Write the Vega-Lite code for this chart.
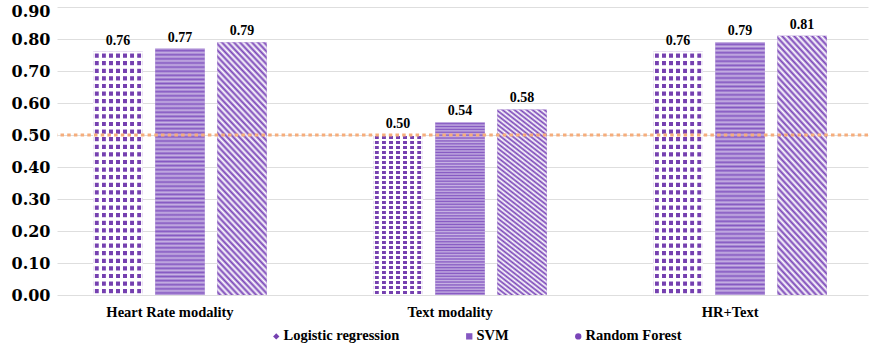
{
  "$schema": "https://vega.github.io/schema/vega-lite/v6.json",
  "width": 811,
  "height": 288,
  "autosize": {"type": "none"},
  "padding": {"left": 57, "top": 7, "right": 10, "bottom": 54},
  "background": "white",
  "config": {
    "view": {"stroke": null},
    "axis": {"gridColor": "#dedede", "gridWidth": 1}
  },
  "datasets": {
    "scores": [
      {"modality": "Heart Rate modality", "model": "Logistic regression", "value": 0.76},
      {"modality": "Heart Rate modality", "model": "SVM", "value": 0.77},
      {"modality": "Heart Rate modality", "model": "Random Forest", "value": 0.79},
      {"modality": "Text modality", "model": "Logistic regression", "value": 0.50},
      {"modality": "Text modality", "model": "SVM", "value": 0.54},
      {"modality": "Text modality", "model": "Random Forest", "value": 0.58},
      {"modality": "HR+Text", "model": "Logistic regression", "value": 0.76},
      {"modality": "HR+Text", "model": "SVM", "value": 0.79},
      {"modality": "HR+Text", "model": "Random Forest", "value": 0.81}
    ],
    "threshold": [{"value": 0.5}]
  },
  "encoding": {
    "y": {
      "field": "value", "type": "quantitative",
      "scale": {"domain": [0, 0.9], "nice": false},
      "axis": {"title": null, "values": [0, 0.1, 0.2, 0.3, 0.4, 0.5, 0.6, 0.7, 0.8, 0.9], "format": ".2f", "labelOverlap": false, "labelBound": false, "domain": false, "ticks": false, "labelPadding": 7, "labelFont": "DejaVu Serif", "labelFontWeight": "bold", "labelFontSize": 16, "labelColor": "#000000",
        "labelOffset": {"condition": {"test": "datum.value >= 0.85", "value": 4}, "value": 0}}
    }
  },
  "layer": [
    {
      "data": {"name": "scores"},
      "encoding": {
        "x": {
          "field": "modality", "type": "nominal",
          "sort": ["Heart Rate modality", "Text modality", "HR+Text"],
          "scale": {"paddingInner": 0.38, "paddingOuter": 0.138, "align": 0.468},
          "axis": {"title": null, "domain": false, "ticks": false, "labelAngle": 0, "labelPadding": 10, "labelOffset": -10, "labelFont": "Liberation Serif", "labelFontWeight": "bold", "labelFontSize": 14.5, "labelColor": "#000000", "grid": false}
        },
        "xOffset": {
          "field": "model", "type": "nominal",
          "sort": ["Logistic regression", "SVM", "Random Forest"],
          "scale": {"domain": ["Logistic regression", "SVM", "Random Forest"], "paddingInner": 0.2, "paddingOuter": 0}
        }
      },
      "layer": [
        {
          "mark": {"type": "bar"},
          "encoding": {
            "color": {"field": "model", "type": "nominal", "scale": {"domain": ["Logistic regression", "SVM", "Random Forest"], "range": ["#7540b0", "#8558c2", "#7a45b8"]},
              "legend": {"orient": "none", "legendX": 212, "legendY": 322, "direction": "horizontal", "title": null, "padding": 0, "labelFont": "Liberation Serif", "labelFontWeight": "bold", "labelFontSize": 14.5, "labelColor": "#000000", "labelOpacity": 1, "symbolSize": 40, "symbolOpacity": 1, "symbolStrokeWidth": 0, "columnPadding": 62, "labelOffset": 0}}
          }
        },
        {
          "transform": [{"filter": "datum.model === 'Logistic regression'"}],
          "mark": {"type": "bar", "fill": {"gradient": "linear", "x1": 0, "y1": 0, "x2": 0, "y2": 1, "stops": [
            {"offset": 0, "color": "#ffffff"},
            {"offset": 0.0055, "color": "#ffffff"}, {"offset": 0.0086, "color": "rgba(255,255,255,0)"}, {"offset": 0.0227, "color": "rgba(255,255,255,0)"}, {"offset": 0.0258, "color": "#ffffff"},
            {"offset": 0.0367, "color": "#ffffff"}, {"offset": 0.0398, "color": "rgba(255,255,255,0)"}, {"offset": 0.0539, "color": "rgba(255,255,255,0)"}, {"offset": 0.057, "color": "#ffffff"},
            {"offset": 0.068, "color": "#ffffff"}, {"offset": 0.0711, "color": "rgba(255,255,255,0)"}, {"offset": 0.0852, "color": "rgba(255,255,255,0)"}, {"offset": 0.0883, "color": "#ffffff"},
            {"offset": 0.0992, "color": "#ffffff"}, {"offset": 0.1023, "color": "rgba(255,255,255,0)"}, {"offset": 0.1164, "color": "rgba(255,255,255,0)"}, {"offset": 0.1195, "color": "#ffffff"},
            {"offset": 0.1305, "color": "#ffffff"}, {"offset": 0.1336, "color": "rgba(255,255,255,0)"}, {"offset": 0.1477, "color": "rgba(255,255,255,0)"}, {"offset": 0.1508, "color": "#ffffff"},
            {"offset": 0.1617, "color": "#ffffff"}, {"offset": 0.1648, "color": "rgba(255,255,255,0)"}, {"offset": 0.1789, "color": "rgba(255,255,255,0)"}, {"offset": 0.182, "color": "#ffffff"},
            {"offset": 0.193, "color": "#ffffff"}, {"offset": 0.1961, "color": "rgba(255,255,255,0)"}, {"offset": 0.2102, "color": "rgba(255,255,255,0)"}, {"offset": 0.2133, "color": "#ffffff"},
            {"offset": 0.2242, "color": "#ffffff"}, {"offset": 0.2273, "color": "rgba(255,255,255,0)"}, {"offset": 0.2414, "color": "rgba(255,255,255,0)"}, {"offset": 0.2445, "color": "#ffffff"},
            {"offset": 0.2555, "color": "#ffffff"}, {"offset": 0.2586, "color": "rgba(255,255,255,0)"}, {"offset": 0.2727, "color": "rgba(255,255,255,0)"}, {"offset": 0.2758, "color": "#ffffff"},
            {"offset": 0.2867, "color": "#ffffff"}, {"offset": 0.2898, "color": "rgba(255,255,255,0)"}, {"offset": 0.3039, "color": "rgba(255,255,255,0)"}, {"offset": 0.307, "color": "#ffffff"},
            {"offset": 0.318, "color": "#ffffff"}, {"offset": 0.3211, "color": "rgba(255,255,255,0)"}, {"offset": 0.3352, "color": "rgba(255,255,255,0)"}, {"offset": 0.3383, "color": "#ffffff"},
            {"offset": 0.3492, "color": "#ffffff"}, {"offset": 0.3523, "color": "rgba(255,255,255,0)"}, {"offset": 0.3664, "color": "rgba(255,255,255,0)"}, {"offset": 0.3695, "color": "#ffffff"},
            {"offset": 0.3805, "color": "#ffffff"}, {"offset": 0.3836, "color": "rgba(255,255,255,0)"}, {"offset": 0.3977, "color": "rgba(255,255,255,0)"}, {"offset": 0.4008, "color": "#ffffff"},
            {"offset": 0.4117, "color": "#ffffff"}, {"offset": 0.4148, "color": "rgba(255,255,255,0)"}, {"offset": 0.4289, "color": "rgba(255,255,255,0)"}, {"offset": 0.432, "color": "#ffffff"},
            {"offset": 0.443, "color": "#ffffff"}, {"offset": 0.4461, "color": "rgba(255,255,255,0)"}, {"offset": 0.4602, "color": "rgba(255,255,255,0)"}, {"offset": 0.4633, "color": "#ffffff"},
            {"offset": 0.4742, "color": "#ffffff"}, {"offset": 0.4773, "color": "rgba(255,255,255,0)"}, {"offset": 0.4914, "color": "rgba(255,255,255,0)"}, {"offset": 0.4945, "color": "#ffffff"},
            {"offset": 0.5055, "color": "#ffffff"}, {"offset": 0.5086, "color": "rgba(255,255,255,0)"}, {"offset": 0.5227, "color": "rgba(255,255,255,0)"}, {"offset": 0.5258, "color": "#ffffff"},
            {"offset": 0.5367, "color": "#ffffff"}, {"offset": 0.5398, "color": "rgba(255,255,255,0)"}, {"offset": 0.5539, "color": "rgba(255,255,255,0)"}, {"offset": 0.557, "color": "#ffffff"},
            {"offset": 0.568, "color": "#ffffff"}, {"offset": 0.5711, "color": "rgba(255,255,255,0)"}, {"offset": 0.5852, "color": "rgba(255,255,255,0)"}, {"offset": 0.5883, "color": "#ffffff"},
            {"offset": 0.5992, "color": "#ffffff"}, {"offset": 0.6023, "color": "rgba(255,255,255,0)"}, {"offset": 0.6164, "color": "rgba(255,255,255,0)"}, {"offset": 0.6195, "color": "#ffffff"},
            {"offset": 0.6305, "color": "#ffffff"}, {"offset": 0.6336, "color": "rgba(255,255,255,0)"}, {"offset": 0.6477, "color": "rgba(255,255,255,0)"}, {"offset": 0.6508, "color": "#ffffff"},
            {"offset": 0.6617, "color": "#ffffff"}, {"offset": 0.6648, "color": "rgba(255,255,255,0)"}, {"offset": 0.6789, "color": "rgba(255,255,255,0)"}, {"offset": 0.682, "color": "#ffffff"},
            {"offset": 0.693, "color": "#ffffff"}, {"offset": 0.6961, "color": "rgba(255,255,255,0)"}, {"offset": 0.7102, "color": "rgba(255,255,255,0)"}, {"offset": 0.7133, "color": "#ffffff"},
            {"offset": 0.7242, "color": "#ffffff"}, {"offset": 0.7273, "color": "rgba(255,255,255,0)"}, {"offset": 0.7414, "color": "rgba(255,255,255,0)"}, {"offset": 0.7445, "color": "#ffffff"},
            {"offset": 0.7555, "color": "#ffffff"}, {"offset": 0.7586, "color": "rgba(255,255,255,0)"}, {"offset": 0.7727, "color": "rgba(255,255,255,0)"}, {"offset": 0.7758, "color": "#ffffff"},
            {"offset": 0.7867, "color": "#ffffff"}, {"offset": 0.7898, "color": "rgba(255,255,255,0)"}, {"offset": 0.8039, "color": "rgba(255,255,255,0)"}, {"offset": 0.807, "color": "#ffffff"},
            {"offset": 0.818, "color": "#ffffff"}, {"offset": 0.8211, "color": "rgba(255,255,255,0)"}, {"offset": 0.8352, "color": "rgba(255,255,255,0)"}, {"offset": 0.8383, "color": "#ffffff"},
            {"offset": 0.8492, "color": "#ffffff"}, {"offset": 0.8523, "color": "rgba(255,255,255,0)"}, {"offset": 0.8664, "color": "rgba(255,255,255,0)"}, {"offset": 0.8695, "color": "#ffffff"},
            {"offset": 0.8805, "color": "#ffffff"}, {"offset": 0.8836, "color": "rgba(255,255,255,0)"}, {"offset": 0.8977, "color": "rgba(255,255,255,0)"}, {"offset": 0.9008, "color": "#ffffff"},
            {"offset": 0.9117, "color": "#ffffff"}, {"offset": 0.9148, "color": "rgba(255,255,255,0)"}, {"offset": 0.9289, "color": "rgba(255,255,255,0)"}, {"offset": 0.932, "color": "#ffffff"},
            {"offset": 0.943, "color": "#ffffff"}, {"offset": 0.9461, "color": "rgba(255,255,255,0)"}, {"offset": 0.9602, "color": "rgba(255,255,255,0)"}, {"offset": 0.9633, "color": "#ffffff"},
            {"offset": 0.9742, "color": "#ffffff"}, {"offset": 0.9773, "color": "rgba(255,255,255,0)"}, {"offset": 0.9914, "color": "rgba(255,255,255,0)"}, {"offset": 0.9945, "color": "#ffffff"},
            {"offset": 1, "color": "#ffffff"}
          ]}}
        },
        {
          "transform": [{"filter": "datum.model === 'Logistic regression'"}],
          "mark": {"type": "bar", "fill": {"gradient": "linear", "x1": 0, "y1": 0, "x2": 1, "y2": 0, "stops": [
            {"offset": 0, "color": "#ffffff"},
            {"offset": 0.025, "color": "#ffffff"}, {"offset": 0.0393, "color": "rgba(255,255,255,0)"}, {"offset": 0.1036, "color": "rgba(255,255,255,0)"}, {"offset": 0.1179, "color": "#ffffff"},
            {"offset": 0.1679, "color": "#ffffff"}, {"offset": 0.1821, "color": "rgba(255,255,255,0)"}, {"offset": 0.2464, "color": "rgba(255,255,255,0)"}, {"offset": 0.2607, "color": "#ffffff"},
            {"offset": 0.3107, "color": "#ffffff"}, {"offset": 0.325, "color": "rgba(255,255,255,0)"}, {"offset": 0.3893, "color": "rgba(255,255,255,0)"}, {"offset": 0.4036, "color": "#ffffff"},
            {"offset": 0.4536, "color": "#ffffff"}, {"offset": 0.4679, "color": "rgba(255,255,255,0)"}, {"offset": 0.5321, "color": "rgba(255,255,255,0)"}, {"offset": 0.5464, "color": "#ffffff"},
            {"offset": 0.5964, "color": "#ffffff"}, {"offset": 0.6107, "color": "rgba(255,255,255,0)"}, {"offset": 0.675, "color": "rgba(255,255,255,0)"}, {"offset": 0.6893, "color": "#ffffff"},
            {"offset": 0.7393, "color": "#ffffff"}, {"offset": 0.7536, "color": "rgba(255,255,255,0)"}, {"offset": 0.8179, "color": "rgba(255,255,255,0)"}, {"offset": 0.8321, "color": "#ffffff"},
            {"offset": 0.8821, "color": "#ffffff"}, {"offset": 0.8964, "color": "rgba(255,255,255,0)"}, {"offset": 0.9607, "color": "rgba(255,255,255,0)"}, {"offset": 0.975, "color": "#ffffff"},
            {"offset": 1, "color": "#ffffff"}
          ]}}
        },
        {
          "transform": [{"filter": "datum.model === 'SVM'"}],
          "mark": {"type": "bar", "fill": {"gradient": "linear", "x1": 0, "y1": 0, "x2": 0, "y2": 1, "stops": [
            {"offset": 0, "color": "rgba(255,255,255,0.55)"}, {"offset": 0.0083, "color": "rgba(255,255,255,0)"},
            {"offset": 0.0167, "color": "rgba(255,255,255,0.55)"}, {"offset": 0.025, "color": "rgba(255,255,255,0)"},
            {"offset": 0.0333, "color": "rgba(255,255,255,0.55)"}, {"offset": 0.0417, "color": "rgba(255,255,255,0)"},
            {"offset": 0.05, "color": "rgba(255,255,255,0.55)"}, {"offset": 0.0583, "color": "rgba(255,255,255,0)"},
            {"offset": 0.0667, "color": "rgba(255,255,255,0.55)"}, {"offset": 0.075, "color": "rgba(255,255,255,0)"},
            {"offset": 0.0833, "color": "rgba(255,255,255,0.55)"}, {"offset": 0.0917, "color": "rgba(255,255,255,0)"},
            {"offset": 0.1, "color": "rgba(255,255,255,0.55)"}, {"offset": 0.1083, "color": "rgba(255,255,255,0)"},
            {"offset": 0.1167, "color": "rgba(255,255,255,0.55)"}, {"offset": 0.125, "color": "rgba(255,255,255,0)"},
            {"offset": 0.1333, "color": "rgba(255,255,255,0.55)"}, {"offset": 0.1417, "color": "rgba(255,255,255,0)"},
            {"offset": 0.15, "color": "rgba(255,255,255,0.55)"}, {"offset": 0.1583, "color": "rgba(255,255,255,0)"},
            {"offset": 0.1667, "color": "rgba(255,255,255,0.55)"}, {"offset": 0.175, "color": "rgba(255,255,255,0)"},
            {"offset": 0.1833, "color": "rgba(255,255,255,0.55)"}, {"offset": 0.1917, "color": "rgba(255,255,255,0)"},
            {"offset": 0.2, "color": "rgba(255,255,255,0.55)"}, {"offset": 0.2083, "color": "rgba(255,255,255,0)"},
            {"offset": 0.2167, "color": "rgba(255,255,255,0.55)"}, {"offset": 0.225, "color": "rgba(255,255,255,0)"},
            {"offset": 0.2333, "color": "rgba(255,255,255,0.55)"}, {"offset": 0.2417, "color": "rgba(255,255,255,0)"},
            {"offset": 0.25, "color": "rgba(255,255,255,0.55)"}, {"offset": 0.2583, "color": "rgba(255,255,255,0)"},
            {"offset": 0.2667, "color": "rgba(255,255,255,0.55)"}, {"offset": 0.275, "color": "rgba(255,255,255,0)"},
            {"offset": 0.2833, "color": "rgba(255,255,255,0.55)"}, {"offset": 0.2917, "color": "rgba(255,255,255,0)"},
            {"offset": 0.3, "color": "rgba(255,255,255,0.55)"}, {"offset": 0.3083, "color": "rgba(255,255,255,0)"},
            {"offset": 0.3167, "color": "rgba(255,255,255,0.55)"}, {"offset": 0.325, "color": "rgba(255,255,255,0)"},
            {"offset": 0.3333, "color": "rgba(255,255,255,0.55)"}, {"offset": 0.3417, "color": "rgba(255,255,255,0)"},
            {"offset": 0.35, "color": "rgba(255,255,255,0.55)"}, {"offset": 0.3583, "color": "rgba(255,255,255,0)"},
            {"offset": 0.3667, "color": "rgba(255,255,255,0.55)"}, {"offset": 0.375, "color": "rgba(255,255,255,0)"},
            {"offset": 0.3833, "color": "rgba(255,255,255,0.55)"}, {"offset": 0.3917, "color": "rgba(255,255,255,0)"},
            {"offset": 0.4, "color": "rgba(255,255,255,0.55)"}, {"offset": 0.4083, "color": "rgba(255,255,255,0)"},
            {"offset": 0.4167, "color": "rgba(255,255,255,0.55)"}, {"offset": 0.425, "color": "rgba(255,255,255,0)"},
            {"offset": 0.4333, "color": "rgba(255,255,255,0.55)"}, {"offset": 0.4417, "color": "rgba(255,255,255,0)"},
            {"offset": 0.45, "color": "rgba(255,255,255,0.55)"}, {"offset": 0.4583, "color": "rgba(255,255,255,0)"},
            {"offset": 0.4667, "color": "rgba(255,255,255,0.55)"}, {"offset": 0.475, "color": "rgba(255,255,255,0)"},
            {"offset": 0.4833, "color": "rgba(255,255,255,0.55)"}, {"offset": 0.4917, "color": "rgba(255,255,255,0)"},
            {"offset": 0.5, "color": "rgba(255,255,255,0.55)"}, {"offset": 0.5083, "color": "rgba(255,255,255,0)"},
            {"offset": 0.5167, "color": "rgba(255,255,255,0.55)"}, {"offset": 0.525, "color": "rgba(255,255,255,0)"},
            {"offset": 0.5333, "color": "rgba(255,255,255,0.55)"}, {"offset": 0.5417, "color": "rgba(255,255,255,0)"},
            {"offset": 0.55, "color": "rgba(255,255,255,0.55)"}, {"offset": 0.5583, "color": "rgba(255,255,255,0)"},
            {"offset": 0.5667, "color": "rgba(255,255,255,0.55)"}, {"offset": 0.575, "color": "rgba(255,255,255,0)"},
            {"offset": 0.5833, "color": "rgba(255,255,255,0.55)"}, {"offset": 0.5917, "color": "rgba(255,255,255,0)"},
            {"offset": 0.6, "color": "rgba(255,255,255,0.55)"}, {"offset": 0.6083, "color": "rgba(255,255,255,0)"},
            {"offset": 0.6167, "color": "rgba(255,255,255,0.55)"}, {"offset": 0.625, "color": "rgba(255,255,255,0)"},
            {"offset": 0.6333, "color": "rgba(255,255,255,0.55)"}, {"offset": 0.6417, "color": "rgba(255,255,255,0)"},
            {"offset": 0.65, "color": "rgba(255,255,255,0.55)"}, {"offset": 0.6583, "color": "rgba(255,255,255,0)"},
            {"offset": 0.6667, "color": "rgba(255,255,255,0.55)"}, {"offset": 0.675, "color": "rgba(255,255,255,0)"},
            {"offset": 0.6833, "color": "rgba(255,255,255,0.55)"}, {"offset": 0.6917, "color": "rgba(255,255,255,0)"},
            {"offset": 0.7, "color": "rgba(255,255,255,0.55)"}, {"offset": 0.7083, "color": "rgba(255,255,255,0)"},
            {"offset": 0.7167, "color": "rgba(255,255,255,0.55)"}, {"offset": 0.725, "color": "rgba(255,255,255,0)"},
            {"offset": 0.7333, "color": "rgba(255,255,255,0.55)"}, {"offset": 0.7417, "color": "rgba(255,255,255,0)"},
            {"offset": 0.75, "color": "rgba(255,255,255,0.55)"}, {"offset": 0.7583, "color": "rgba(255,255,255,0)"},
            {"offset": 0.7667, "color": "rgba(255,255,255,0.55)"}, {"offset": 0.775, "color": "rgba(255,255,255,0)"},
            {"offset": 0.7833, "color": "rgba(255,255,255,0.55)"}, {"offset": 0.7917, "color": "rgba(255,255,255,0)"},
            {"offset": 0.8, "color": "rgba(255,255,255,0.55)"}, {"offset": 0.8083, "color": "rgba(255,255,255,0)"},
            {"offset": 0.8167, "color": "rgba(255,255,255,0.55)"}, {"offset": 0.825, "color": "rgba(255,255,255,0)"},
            {"offset": 0.8333, "color": "rgba(255,255,255,0.55)"}, {"offset": 0.8417, "color": "rgba(255,255,255,0)"},
            {"offset": 0.85, "color": "rgba(255,255,255,0.55)"}, {"offset": 0.8583, "color": "rgba(255,255,255,0)"},
            {"offset": 0.8667, "color": "rgba(255,255,255,0.55)"}, {"offset": 0.875, "color": "rgba(255,255,255,0)"},
            {"offset": 0.8833, "color": "rgba(255,255,255,0.55)"}, {"offset": 0.8917, "color": "rgba(255,255,255,0)"},
            {"offset": 0.9, "color": "rgba(255,255,255,0.55)"}, {"offset": 0.9083, "color": "rgba(255,255,255,0)"},
            {"offset": 0.9167, "color": "rgba(255,255,255,0.55)"}, {"offset": 0.925, "color": "rgba(255,255,255,0)"},
            {"offset": 0.9333, "color": "rgba(255,255,255,0.55)"}, {"offset": 0.9417, "color": "rgba(255,255,255,0)"},
            {"offset": 0.95, "color": "rgba(255,255,255,0.55)"}, {"offset": 0.9583, "color": "rgba(255,255,255,0)"},
            {"offset": 0.9667, "color": "rgba(255,255,255,0.55)"}, {"offset": 0.975, "color": "rgba(255,255,255,0)"},
            {"offset": 0.9833, "color": "rgba(255,255,255,0.55)"}, {"offset": 0.9917, "color": "rgba(255,255,255,0)"},
            {"offset": 1, "color": "rgba(255,255,255,0.55)"}
          ]}}
        },
        {
          "transform": [{"filter": "datum.model === 'Random Forest'"}],
          "mark": {"type": "bar", "fill": {"gradient": "linear", "x1": 1, "y1": 0, "x2": 0.759, "y2": 1.158, "stops": [
            {"offset": 0, "color": "#ffffff"}, {"offset": 0.0104, "color": "rgba(255,255,255,0)"},
            {"offset": 0.0208, "color": "#ffffff"}, {"offset": 0.0313, "color": "rgba(255,255,255,0)"},
            {"offset": 0.0417, "color": "#ffffff"}, {"offset": 0.0521, "color": "rgba(255,255,255,0)"},
            {"offset": 0.0625, "color": "#ffffff"}, {"offset": 0.0729, "color": "rgba(255,255,255,0)"},
            {"offset": 0.0833, "color": "#ffffff"}, {"offset": 0.0938, "color": "rgba(255,255,255,0)"},
            {"offset": 0.1042, "color": "#ffffff"}, {"offset": 0.1146, "color": "rgba(255,255,255,0)"},
            {"offset": 0.125, "color": "#ffffff"}, {"offset": 0.1354, "color": "rgba(255,255,255,0)"},
            {"offset": 0.1458, "color": "#ffffff"}, {"offset": 0.1563, "color": "rgba(255,255,255,0)"},
            {"offset": 0.1667, "color": "#ffffff"}, {"offset": 0.1771, "color": "rgba(255,255,255,0)"},
            {"offset": 0.1875, "color": "#ffffff"}, {"offset": 0.1979, "color": "rgba(255,255,255,0)"},
            {"offset": 0.2083, "color": "#ffffff"}, {"offset": 0.2188, "color": "rgba(255,255,255,0)"},
            {"offset": 0.2292, "color": "#ffffff"}, {"offset": 0.2396, "color": "rgba(255,255,255,0)"},
            {"offset": 0.25, "color": "#ffffff"}, {"offset": 0.2604, "color": "rgba(255,255,255,0)"},
            {"offset": 0.2708, "color": "#ffffff"}, {"offset": 0.2813, "color": "rgba(255,255,255,0)"},
            {"offset": 0.2917, "color": "#ffffff"}, {"offset": 0.3021, "color": "rgba(255,255,255,0)"},
            {"offset": 0.3125, "color": "#ffffff"}, {"offset": 0.3229, "color": "rgba(255,255,255,0)"},
            {"offset": 0.3333, "color": "#ffffff"}, {"offset": 0.3438, "color": "rgba(255,255,255,0)"},
            {"offset": 0.3542, "color": "#ffffff"}, {"offset": 0.3646, "color": "rgba(255,255,255,0)"},
            {"offset": 0.375, "color": "#ffffff"}, {"offset": 0.3854, "color": "rgba(255,255,255,0)"},
            {"offset": 0.3958, "color": "#ffffff"}, {"offset": 0.4063, "color": "rgba(255,255,255,0)"},
            {"offset": 0.4167, "color": "#ffffff"}, {"offset": 0.4271, "color": "rgba(255,255,255,0)"},
            {"offset": 0.4375, "color": "#ffffff"}, {"offset": 0.4479, "color": "rgba(255,255,255,0)"},
            {"offset": 0.4583, "color": "#ffffff"}, {"offset": 0.4688, "color": "rgba(255,255,255,0)"},
            {"offset": 0.4792, "color": "#ffffff"}, {"offset": 0.4896, "color": "rgba(255,255,255,0)"},
            {"offset": 0.5, "color": "#ffffff"}, {"offset": 0.5104, "color": "rgba(255,255,255,0)"},
            {"offset": 0.5208, "color": "#ffffff"}, {"offset": 0.5313, "color": "rgba(255,255,255,0)"},
            {"offset": 0.5417, "color": "#ffffff"}, {"offset": 0.5521, "color": "rgba(255,255,255,0)"},
            {"offset": 0.5625, "color": "#ffffff"}, {"offset": 0.5729, "color": "rgba(255,255,255,0)"},
            {"offset": 0.5833, "color": "#ffffff"}, {"offset": 0.5938, "color": "rgba(255,255,255,0)"},
            {"offset": 0.6042, "color": "#ffffff"}, {"offset": 0.6146, "color": "rgba(255,255,255,0)"},
            {"offset": 0.625, "color": "#ffffff"}, {"offset": 0.6354, "color": "rgba(255,255,255,0)"},
            {"offset": 0.6458, "color": "#ffffff"}, {"offset": 0.6563, "color": "rgba(255,255,255,0)"},
            {"offset": 0.6667, "color": "#ffffff"}, {"offset": 0.6771, "color": "rgba(255,255,255,0)"},
            {"offset": 0.6875, "color": "#ffffff"}, {"offset": 0.6979, "color": "rgba(255,255,255,0)"},
            {"offset": 0.7083, "color": "#ffffff"}, {"offset": 0.7188, "color": "rgba(255,255,255,0)"},
            {"offset": 0.7292, "color": "#ffffff"}, {"offset": 0.7396, "color": "rgba(255,255,255,0)"},
            {"offset": 0.75, "color": "#ffffff"}, {"offset": 0.7604, "color": "rgba(255,255,255,0)"},
            {"offset": 0.7708, "color": "#ffffff"}, {"offset": 0.7813, "color": "rgba(255,255,255,0)"},
            {"offset": 0.7917, "color": "#ffffff"}, {"offset": 0.8021, "color": "rgba(255,255,255,0)"},
            {"offset": 0.8125, "color": "#ffffff"}, {"offset": 0.8229, "color": "rgba(255,255,255,0)"},
            {"offset": 0.8333, "color": "#ffffff"}, {"offset": 0.8438, "color": "rgba(255,255,255,0)"},
            {"offset": 0.8542, "color": "#ffffff"}, {"offset": 0.8646, "color": "rgba(255,255,255,0)"},
            {"offset": 0.875, "color": "#ffffff"}, {"offset": 0.8854, "color": "rgba(255,255,255,0)"},
            {"offset": 0.8958, "color": "#ffffff"}, {"offset": 0.9063, "color": "rgba(255,255,255,0)"},
            {"offset": 0.9167, "color": "#ffffff"}, {"offset": 0.9271, "color": "rgba(255,255,255,0)"},
            {"offset": 0.9375, "color": "#ffffff"}, {"offset": 0.9479, "color": "rgba(255,255,255,0)"},
            {"offset": 0.9583, "color": "#ffffff"}, {"offset": 0.9688, "color": "rgba(255,255,255,0)"},
            {"offset": 0.9792, "color": "#ffffff"}, {"offset": 0.9896, "color": "rgba(255,255,255,0)"},
            {"offset": 1, "color": "#ffffff"}
          ]}}
        },
        {
          "mark": {"type": "point", "filled": true, "size": 0, "opacity": 1},
          "encoding": {
            "color": {"field": "model", "type": "nominal", "scale": {"domain": ["Logistic regression", "SVM", "Random Forest"], "range": ["#7540b0", "#8558c2", "#7a45b8"]},
              "legend": {"orient": "none", "legendX": 212, "legendY": 322, "direction": "horizontal", "title": null, "padding": 0, "labelFont": "Liberation Serif", "labelFontWeight": "bold", "labelFontSize": 14.5, "labelColor": "#000000", "labelOpacity": 1, "symbolSize": 40, "symbolOpacity": 1, "symbolStrokeWidth": 0, "columnPadding": 62, "labelOffset": 0}},
            "shape": {"field": "model", "type": "nominal", "scale": {"domain": ["Logistic regression", "SVM", "Random Forest"], "range": ["diamond", "square", "circle"]}}
          }
        },
        {
          "mark": {"type": "text", "baseline": "alphabetic", "dy": -7, "font": "Liberation Serif", "fontWeight": "bold", "fontSize": 14, "color": "#000000"},
          "encoding": {"text": {"field": "value", "type": "quantitative", "format": ".2f"}}
        }
      ]
    },
    {
      "data": {"name": "threshold"},
      "mark": {"type": "rule", "color": "#F5AD7C", "strokeWidth": 3, "strokeDash": [3.5, 3.2]},
      "encoding": {}
    }
  ]
}
